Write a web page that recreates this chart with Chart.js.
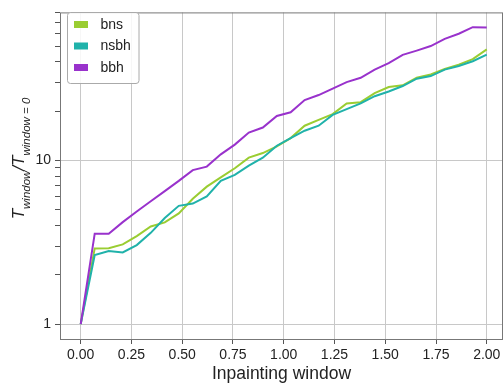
<!DOCTYPE html>
<html>
<head>
<meta charset="utf-8">
<script src="https://cdn.jsdelivr.net/npm/chart.js@4.4.1/dist/chart.umd.min.js"></script>
<style>
  html, body { margin: 0; padding: 0; background: #fff; }
  #wrap { width: 504px; height: 385px; }
</style>
</head>
<body>
<div id="wrap"><canvas id="myChart" width="504" height="385"></canvas></div>
<script>
// inpainting window values (30 steps from 0 to 2)
const windows = [0, 0.069, 0.138, 0.207, 0.276, 0.345, 0.414, 0.483, 0.552, 0.621,
  0.690, 0.759, 0.828, 0.897, 0.966, 1.034, 1.103, 1.172, 1.241, 1.310,
  1.379, 1.448, 1.517, 1.586, 1.655, 1.724, 1.793, 1.862, 1.931, 2.0];

const bns = [1, 2.90, 2.91, 3.07, 3.45, 3.95, 4.18, 4.75, 5.84, 6.92,
  7.88, 8.96, 10.4, 11.1, 12.2, 13.7, 16.3, 17.7, 19.2, 22.3,
  22.7, 25.8, 28.1, 28.8, 32.0, 33.5, 36.2, 38.5, 41.6, 47.7];
const nsbh = [1, 2.64, 2.80, 2.74, 3.04, 3.61, 4.45, 5.28, 5.45, 6.03,
  7.52, 8.17, 9.3, 10.4, 12.3, 13.7, 15.2, 16.3, 19.0, 20.6,
  22.3, 24.7, 26.4, 28.5, 31.6, 32.8, 35.9, 37.8, 40.4, 44.3];
const bbh = [1, 3.57, 3.57, 4.2, 4.88, 5.63, 6.5, 7.5, 8.73, 9.17,
  10.9, 12.5, 14.8, 15.9, 18.7, 19.7, 23.4, 25.1, 27.5, 30.1,
  32.0, 35.9, 39.3, 44.2, 46.9, 50.0, 55.3, 59.5, 65.2, 65.0];

const xTicks = [0, 0.25, 0.5, 0.75, 1.0, 1.25, 1.5, 1.75, 2.0];
const yMajor = [1, 10];
const yMinor = [2, 3, 4, 5, 6, 7, 8, 9, 20, 30, 40, 50, 60, 70, 80];

const pts = (ys) => ys.map((y, i) => ({x: windows[i], y: y}));

// legend inside the axes + frame + rotated y title with subscripts
const extras = {
  id: 'extras',
  afterDraw(chart) {
    const ctx = chart.ctx;
    const a = chart.chartArea;
    ctx.save();
    // frame
    ctx.strokeStyle = '#777';
    ctx.lineWidth = 1;
    ctx.strokeRect(a.left + 0.5, a.top + 0.5, a.right - a.left - 1, a.bottom - a.top);

    // legend
    const lx = 67.5, ly = 12.5, lw = 71.5, lh = 71;
    ctx.fillStyle = 'rgba(255,255,255,0.85)';
    ctx.strokeStyle = '#aaa';
    ctx.beginPath();
    ctx.roundRect(lx, ly, lw, lh, 3);
    ctx.fill();
    ctx.stroke();
    ctx.font = '14px "Liberation Sans", Arial, sans-serif';
    ctx.textBaseline = 'middle';
    [0, 1, 2].forEach((k, r) => {
      const ds = chart.data.datasets[k];
      const cy = 24.5 + r * 21.5;
      ctx.fillStyle = ds.borderColor;
      ctx.fillRect(74, cy - 3.5, 14, 7);
      ctx.fillStyle = '#222';
      ctx.fillText(ds.label, 100.5, cy + 0.5);
    });

    // y axis title
    const parts = [['T', 0], ['window', 1], ['/T', 0], ['window = 0', 1]];
    const fMain = 'italic 17px "Liberation Sans", Arial, sans-serif';
    const fSub = 'italic 11.5px "Liberation Sans", Arial, sans-serif';
    let total = 0;
    const widths = parts.map(p => {
      ctx.font = p[1] ? fSub : fMain;
      const w = ctx.measureText(p[0]).width;
      total += w;
      return w;
    });
    ctx.translate(24, 158.5);
    ctx.rotate(-Math.PI / 2);
    ctx.fillStyle = '#222';
    ctx.textBaseline = 'alphabetic';
    ctx.textAlign = 'left';
    let pos = -total / 2;
    parts.forEach((p, i) => {
      ctx.font = p[1] ? fSub : fMain;
      ctx.fillText(p[0], pos, p[1] ? 6 : 0);
      pos += widths[i];
    });
    ctx.restore();
  }
};

const data = {
  datasets: [
    { label: 'bns', data: pts(bns), borderColor: '#9acd32', order: 3 },
    { label: 'nsbh', data: pts(nsbh), borderColor: '#20b2aa', order: 2 },
    { label: 'bbh', data: pts(bbh), borderColor: '#9932cc', order: 1 }
  ]
};

const config = {
  type: 'line',
  data,
  options: {
    responsive: false,
    animation: false,
    layout: { padding: { top: 5, right: 1, left: 0, bottom: 0 } },
    elements: {
      line: { borderWidth: 2, tension: 0, fill: false },
      point: { radius: 0 }
    },
    scales: {
      x: {
        type: 'linear',
        min: -0.102,
        max: 2.08,
        afterFit: (s) => { s.height = 46; },
        afterBuildTicks: (s) => { s.ticks = xTicks.map(v => ({value: v})); },
        grid: { color: '#c8c8c8', tickColor: '#555', tickLength: 5 },
        border: { display: false },
        ticks: {
          padding: 3,
          color: '#222',
          font: { family: '"Liberation Sans", Arial, sans-serif', size: 14 },
          callback: (v) => Number(v).toFixed(2)
        },
        title: {
          display: true,
          text: 'Inpainting window',
          color: '#222',
          font: { family: '"Liberation Sans", Arial, sans-serif', size: 17.5 },
          padding: { top: 3, bottom: 0 }
        }
      },
      y: {
        type: 'logarithmic',
        min: 0.811,
        max: 80.3,
        afterFit: (s) => { s.width = 60; },
        afterBuildTicks: (s) => {
          s.ticks = yMajor.concat(yMinor).sort((p, q) => p - q).map(v => ({value: v, major: yMajor.includes(v)}));
        },
        grid: {
          color: (c) => (c.tick && yMajor.includes(c.tick.value)) ? '#c8c8c8' : 'rgba(0,0,0,0)',
          tickColor: '#555',
          tickLength: 5
        },
        border: { display: false },
        ticks: {
          autoSkip: false,
          padding: 4,
          color: '#222',
          font: { family: '"Liberation Sans", Arial, sans-serif', size: 14 },
          callback: (v) => yMajor.includes(v) ? String(v) : ''
        }
      }
    },
    plugins: {
      legend: { display: false },
      tooltip: { enabled: false }
    }
  },
  plugins: [extras]
};

const myChart = new Chart(document.getElementById('myChart'), config);
</script>
</body>
</html>
